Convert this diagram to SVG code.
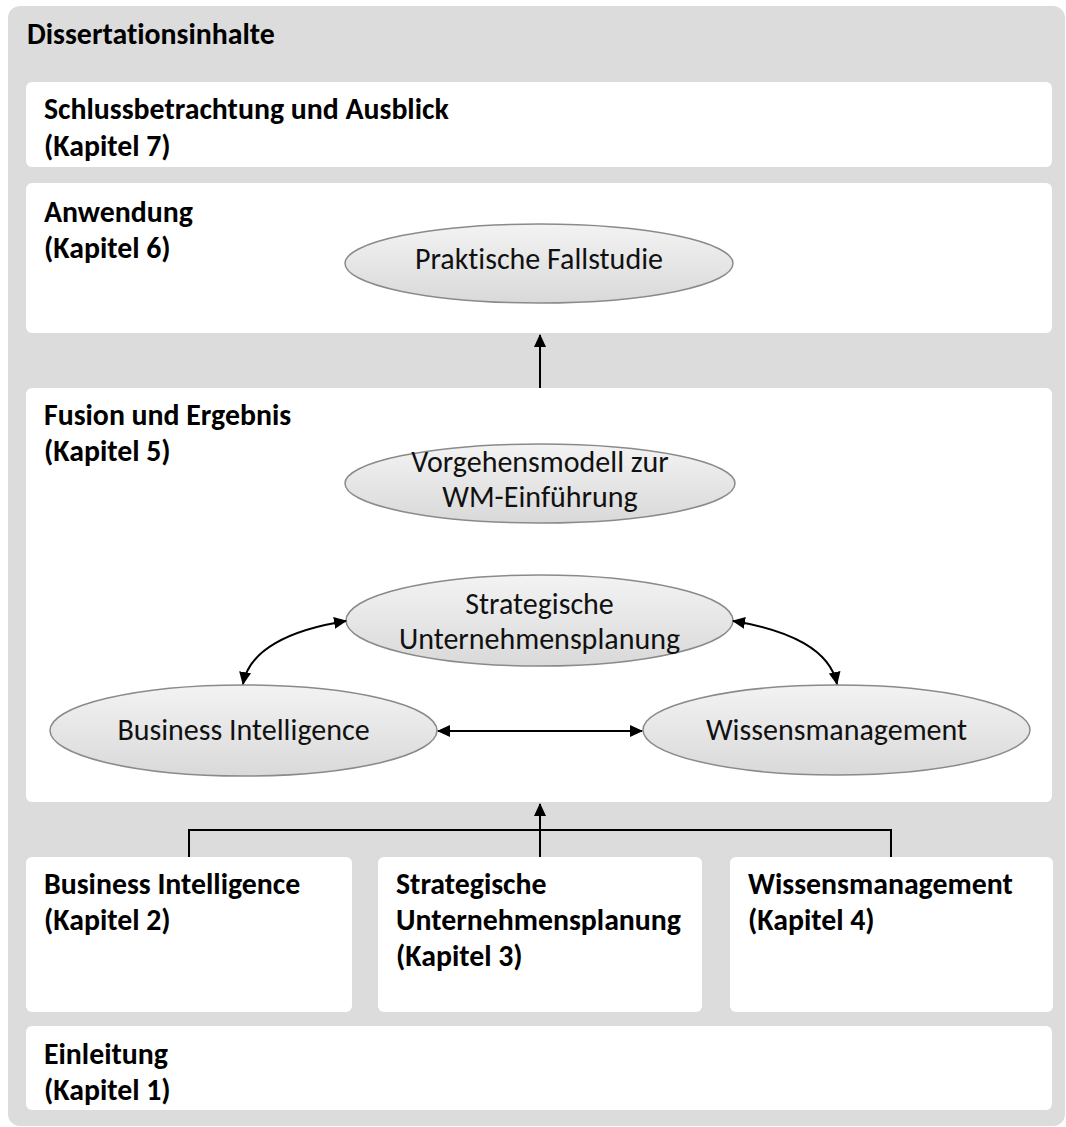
<svg xmlns="http://www.w3.org/2000/svg" width="1066" height="1127" viewBox="0 0 1066 1127">
<style>
.box{fill:#ffffff}
.h{font-family:Carlito,Lato,"Liberation Sans",sans-serif;font-weight:bold;font-size:29.8px;fill:#000;font-variant-ligatures:none}
.e{font-family:Carlito,Lato,"Liberation Sans",sans-serif;font-size:30px;fill:#111;text-anchor:middle;font-variant-ligatures:none}
.ell{fill:url(#eg);stroke:#8a8a8a;stroke-width:1.5}
.con{fill:none;stroke:#000;stroke-width:2}
</style>
<defs>
<linearGradient id="eg" x1="0" y1="0" x2="0" y2="1">
<stop offset="0" stop-color="#f3f3f3"/>
<stop offset="1" stop-color="#d9d9d9"/>
</linearGradient>
<marker id="ah" viewBox="0 0 13 12" refX="12" refY="6" markerWidth="13" markerHeight="12" markerUnits="userSpaceOnUse" orient="auto-start-reverse">
<path d="M0,0 L13,6 L0,12 Z" fill="#000"/>
</marker>
</defs>
<rect id="outer" x="8" y="6" width="1057" height="1120" rx="12" fill="#dcdcdc"/>
<text class="h" x="27" y="44">Dissertationsinhalte</text>

<g id="kap7">
<rect class="box" x="26" y="82" width="1026" height="85" rx="6"/>
<text class="h" x="44" y="119">Schlussbetrachtung und Ausblick</text>
<text class="h" x="44" y="156">(Kapitel 7)</text>
</g>

<g id="kap6">
<rect class="box" x="26" y="183" width="1026" height="150" rx="6"/>
<text class="h" x="44" y="222">Anwendung</text>
<text class="h" x="44" y="258">(Kapitel 6)</text>
</g>

<g id="kap5">
<rect class="box" x="26" y="388" width="1026" height="414" rx="6"/>
<text class="h" x="44" y="425">Fusion und Ergebnis</text>
<text class="h" x="44" y="461">(Kapitel 5)</text>
</g>

<g id="kap2">
<rect class="box" x="26" y="857" width="326" height="155" rx="6"/>
<text class="h" x="44" y="894">Business Intelligence</text>
<text class="h" x="44" y="930">(Kapitel 2)</text>
</g>

<g id="kap3">
<rect class="box" x="378" y="857" width="324" height="155" rx="6"/>
<text class="h" x="396" y="894">Strategische</text>
<text class="h" x="396" y="930">Unternehmensplanung</text>
<text class="h" x="396" y="966">(Kapitel 3)</text>
</g>

<g id="kap4">
<rect class="box" x="730" y="857" width="323" height="155" rx="6"/>
<text class="h" x="748" y="894">Wissensmanagement</text>
<text class="h" x="748" y="930">(Kapitel 4)</text>
</g>

<g id="kap1">
<rect class="box" x="26" y="1026" width="1026" height="84" rx="6"/>
<text class="h" x="44" y="1064">Einleitung</text>
<text class="h" x="44" y="1100">(Kapitel 1)</text>
</g>

<g id="fallstudie">
<ellipse class="ell" cx="539" cy="263.5" rx="194" ry="39.5"/>
<text class="e" x="539" y="269">Praktische Fallstudie</text>
</g>

<g id="vorgehensmodell">
<ellipse class="ell" cx="540" cy="483.5" rx="195" ry="39.5"/>
<text class="e" x="540" y="472">Vorgehensmodell zur</text>
<text class="e" x="540" y="507">WM-Einführung</text>
</g>

<g id="sup">
<ellipse class="ell" cx="539.5" cy="620.5" rx="193.5" ry="45.5"/>
<text class="e" x="539.5" y="614">Strategische</text>
<text class="e" x="539.5" y="649">Unternehmensplanung</text>
</g>

<g id="bi">
<ellipse class="ell" cx="243.5" cy="730.5" rx="193.5" ry="45.5"/>
<text class="e" x="243.5" y="740">Business Intelligence</text>
</g>

<g id="wm">
<ellipse class="ell" cx="836.5" cy="730" rx="193.5" ry="45"/>
<text class="e" x="836.5" y="740">Wissensmanagement</text>
</g>

<g id="connectors">
<line class="con" x1="540" y1="388" x2="540" y2="335" marker-end="url(#ah)"/>
<line class="con" x1="438" y1="731" x2="642" y2="731" marker-start="url(#ah)" marker-end="url(#ah)"/>
<path class="con" d="M346,621 C289,630 249,650 243,684" marker-start="url(#ah)" marker-end="url(#ah)"/>
<path class="con" d="M733,621 C790,630 830,650 837,684" marker-start="url(#ah)" marker-end="url(#ah)"/>
<polyline class="con" points="189,857 189,830 891,830 891,857"/>
<line class="con" x1="540" y1="857" x2="540" y2="804" marker-end="url(#ah)"/>
</g>
</svg>
